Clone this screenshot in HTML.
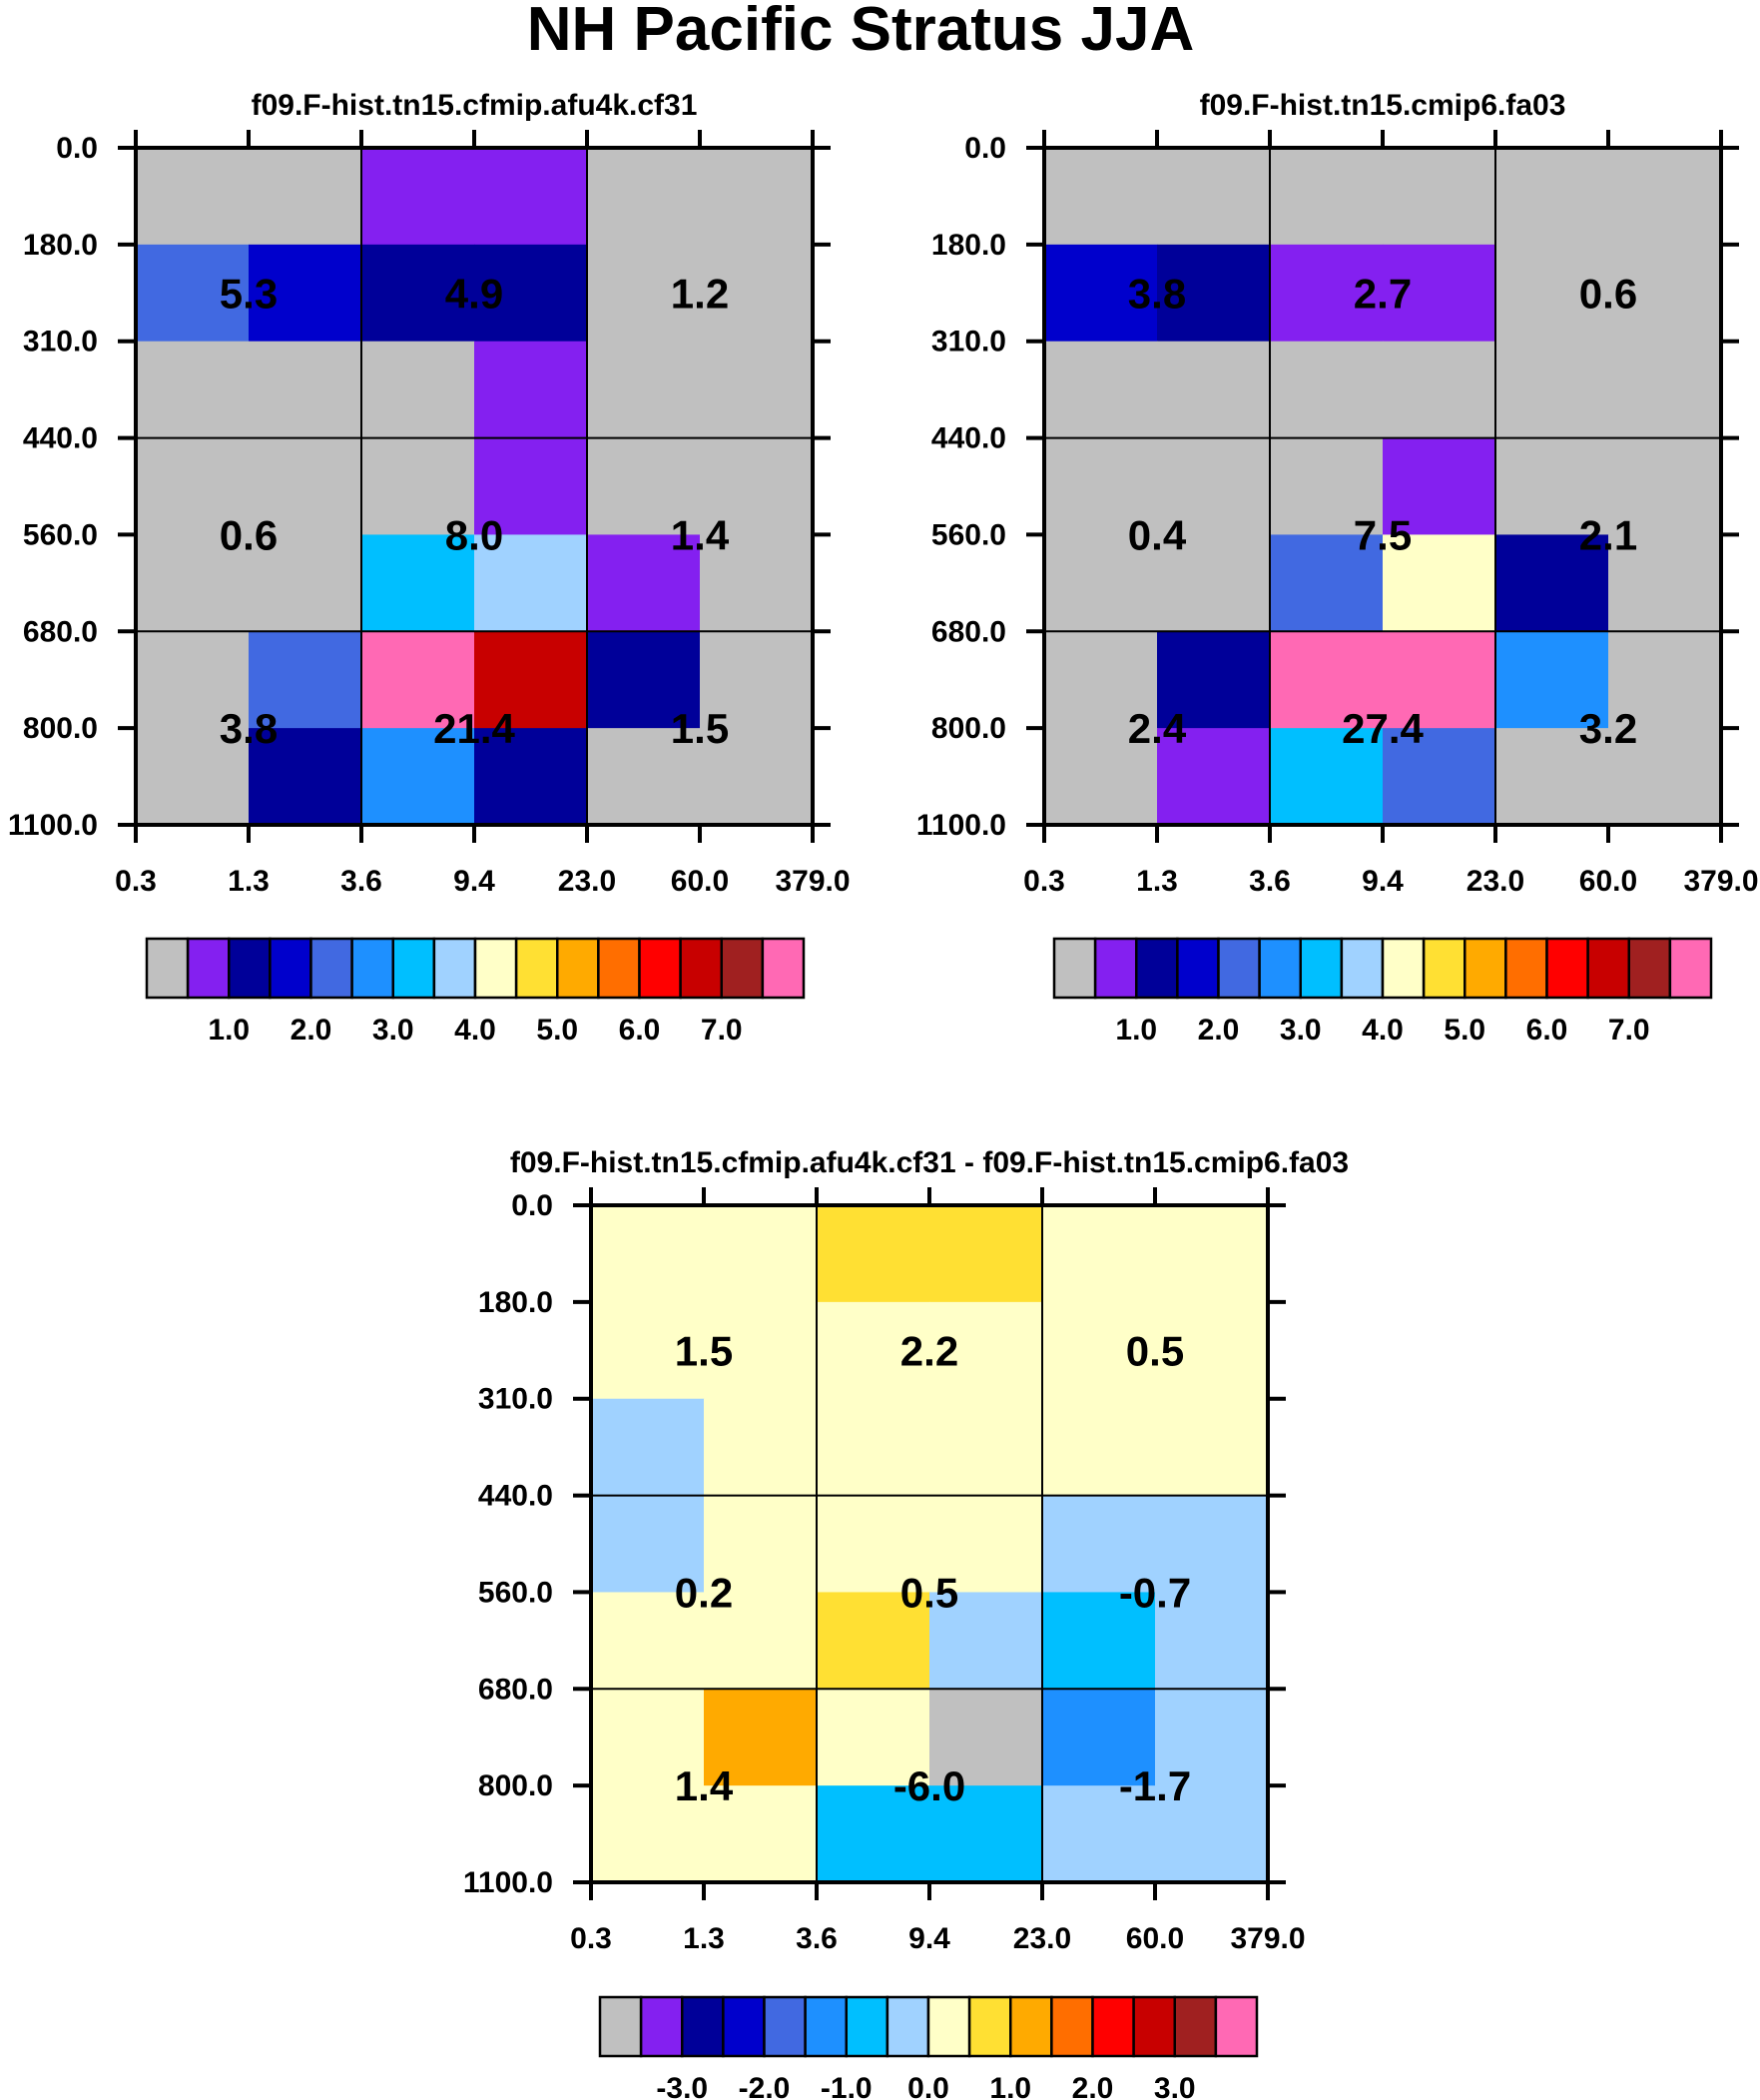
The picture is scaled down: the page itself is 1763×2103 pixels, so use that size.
<!DOCTYPE html>
<html><head><meta charset="utf-8"><style>
body{margin:0;background:#fff}
svg{display:block;font-family:"Liberation Sans",Arial,sans-serif;font-weight:bold}
</style></head><body>
<svg id="chart" width="1763" height="2103" viewBox="0 0 1763 2103" xmlns="http://www.w3.org/2000/svg">
<text x="862" y="50" text-anchor="middle" font-size="62">NH Pacific Stratus JJA</text>
</svg>
<script>
const colors=["#c0c0c0","#8420f0","#000099","#0000cc","#4169e1","#1e90ff","#00bfff","#a0d2ff","#ffffc8","#ffe033","#ffaa00","#ff6e00","#ff0000","#c80000","#a02020","#ff69b4"];
const xTicks=["0.3","1.3","3.6","9.4","23.0","60.0","379.0"];
const yTicks=["0.0","180.0","310.0","440.0","560.0","680.0","800.0","1100.0"];
const grid1=[[0,0,1,1,0,0],[4,3,2,2,0,0],[0,0,0,1,0,0],[0,0,0,1,0,0],[0,0,6,7,1,0],[0,4,15,13,2,0],[0,2,5,2,0,0]];
const grid2=[[0,0,0,0,0,0],[3,2,1,1,0,0],[0,0,0,0,0,0],[0,0,0,1,0,0],[0,0,4,8,2,0],[0,2,15,15,5,0],[0,1,6,4,0,0]];
const grid3=[[8,8,9,9,8,8],[8,8,8,8,8,8],[7,8,8,8,8,8],[7,8,8,8,7,7],[8,8,9,7,6,7],[8,10,8,0,5,7],[8,8,6,6,7,7]];
const vals1=["5.3","4.9","1.2","0.6","8.0","1.4","3.8","21.4","1.5"];
const vals2=["3.8","2.7","0.6","0.4","7.5","2.1","2.4","27.4","3.2"];
const vals3=["1.5","2.2","0.5","0.2","0.5","-0.7","1.4","-6.0","-1.7"];
const cbLabels1=["1.0","2.0","3.0","4.0","5.0","6.0","7.0"];
const cbLabels3=["-3.0","-2.0","-1.0","0.0","1.0","2.0","3.0"];
const svg=document.getElementById('chart');const NS="http://www.w3.org/2000/svg";
function mk(t,a,txt){const e=document.createElementNS(NS,t);for(const k in a)e.setAttribute(k,a[k]);if(txt!=null)e.textContent=txt;svg.appendChild(e);return e;}
function panel(px,py,title,grid,vals,cbx,cby,cbl,pfx){
 const W=678,H=678,cw=W/6,rh=H/7;
 const xs=i=>px+i*cw, ys=j=>py+j*rh;
 let t=mk('text',{x:px+W/2,y:py-33,'text-anchor':'middle','font-size':30},title);
 
 
 grid.forEach((row,j)=>row.forEach((c,i)=>{
  const r=mk('rect',{x:xs(i),y:ys(j),width:cw+0.5,height:rh+0.5,fill:colors[c]});
  
  
 }));
 [2,4].forEach(i=>mk('line',{x1:xs(i),x2:xs(i),y1:py,y2:py+H,stroke:'#000','stroke-width':2}));
 [3,5].forEach(j=>mk('line',{x1:px,x2:px+W,y1:ys(j),y2:ys(j),stroke:'#000','stroke-width':2}));
 const f=mk('rect',{x:px,y:py,width:W,height:H,fill:'none',stroke:'#000','stroke-width':4});
 
 
 xTicks.forEach((l,i)=>{
  mk('line',{x1:xs(i),x2:xs(i),y1:py-18,y2:py,stroke:'#000','stroke-width':4});
  mk('line',{x1:xs(i),x2:xs(i),y1:py+H,y2:py+H+18,stroke:'#000','stroke-width':4});
  const e=mk('text',{x:xs(i),y:py+H+66,'text-anchor':'middle','font-size':30},l);
  
  
 });
 yTicks.forEach((l,j)=>{
  mk('line',{x1:px-18,x2:px,y1:ys(j),y2:ys(j),stroke:'#000','stroke-width':4});
  mk('line',{x1:px+W,x2:px+W+18,y1:ys(j),y2:ys(j),stroke:'#000','stroke-width':4});
  const e=mk('text',{x:px-38,y:ys(j)+10,'text-anchor':'end','font-size':30},l);
  
  
 });
 const vy=[ys(1)+rh/2,ys(4),ys(6)];
 vals.forEach((v,k)=>{
  const e=mk('text',{x:xs(1+2*(k%3)),y:vy[Math.floor(k/3)]+15,'text-anchor':'middle','font-size':42},v);
  
  
 });
 const bw=658/16;
 colors.forEach((c,i)=>{
  const r=mk('rect',{x:cbx+i*bw,y:cby,width:bw,height:59,fill:c,stroke:'#000','stroke-width':2.5});
  
  
 });
 cbl.forEach((l,i)=>{
  const e=mk('text',{x:cbx+(2+2*i)*bw,y:cby+101,'text-anchor':'middle','font-size':30},l);
  
  
 });
}
panel(136,148,"f09.F-hist.tn15.cfmip.afu4k.cf31",grid1,vals1,147,940,cbLabels1,'panel1');
panel(1046,148,"f09.F-hist.tn15.cmip6.fa03",grid2,vals2,1056,940,cbLabels1,'panel2');
panel(592,1207,"f09.F-hist.tn15.cfmip.afu4k.cf31 - f09.F-hist.tn15.cmip6.fa03",grid3,vals3,601,2000,cbLabels3,'panel3');
</script>
</body></html>
